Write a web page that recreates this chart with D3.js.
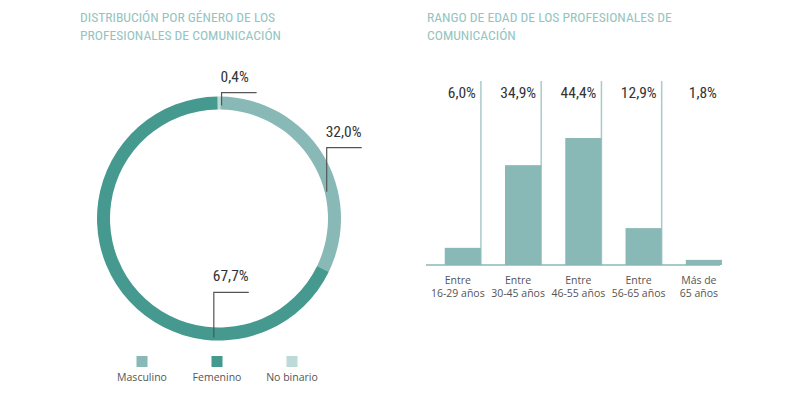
<!DOCTYPE html>
<html lang="es">
<head>
<meta charset="UTF-8">
<title>Profesionales de comunicación</title>
<script src="https://d3js.org/d3.v7.min.js"></script>
<style>
    html, body {
        margin: 0;
        background: #fff;
    }
    .title {
        font-family: "Roboto Condensed", "Liberation Sans Narrow", "DejaVu Sans Condensed", sans-serif;
        font-stretch: condensed;
        font-size: 13.6px;
        fill: #93c4c1;
    }
    .value {
        font-family: "Roboto Condensed", "Liberation Sans Narrow", "DejaVu Sans Condensed", sans-serif;
        font-stretch: condensed;
        font-size: 15.5px;
        fill: #333;
    }
    .small {
        font-family: "Open Sans", sans-serif;
        font-size: 10.5px;
        fill: #555;
    }
</style>
</head>
<body>
<div id="vis"></div>
<script>

    // ---- data ----
    var genderLabels = ["No binario", "Masculino", "Femenino"];
    var genderValues = [0.4, 32.0, 67.7];
    var genderText = ["0,4%", "32,0%", "67,7%"];
    var legendOrder = ["Masculino", "Femenino", "No binario"];

    var ageLabels = [["Entre", "16-29 años"], ["Entre", "30-45 años"], ["Entre", "46-55 años"], ["Entre", "56-65 años"], ["Más de", "65 años"]];
    var ageValues = [6.0, 34.9, 44.4, 12.9, 1.8];
    var ageText = ["6,0%", "34,9%", "44,4%", "12,9%", "1,8%"];

    // ---- layout ----
    var width = 800, height = 393;
    var colors = d3.scaleOrdinal()
        .domain(["Masculino", "Femenino", "No binario"])
        .range(["#88b9b6", "#45998e", "#bcdad8"]);

    var svg = d3.select("#vis").append("svg")
        .attr("width", width)
        .attr("height", height);

    function title(x, lines) {
        var t = svg.append("text").attr("class", "title");
        lines.forEach(function(l, i) {
            t.append("tspan").attr("x", x).attr("y", 22 + i * 18).text(l);
        });
    }
    title(80, ["DISTRIBUCIÓN POR GÉNERO DE LOS", "PROFESIONALES DE COMUNICACIÓN"]);
    title(427, ["RANGO DE EDAD DE LOS PROFESIONALES DE", "COMUNICACIÓN"]);

    /*
     *  DONUT
     */
    var cx = 219, cy = 218.5, outerR = 122, innerR = 109;
    var rad = Math.PI / 180;

    var pie = d3.pie().sort(null).startAngle(-0.7 * rad).endAngle(359.3 * rad);
    var arcs = pie(genderValues);
    var arc = d3.arc().innerRadius(innerR).outerRadius(outerR);

    var donut = svg.append("g").attr("transform", "translate(" + cx + "," + cy + ")");
    donut.selectAll("path")
        .data(arcs)
        .enter().append("path")
        .attr("d", arc)
        .attr("fill", function(d, i) { return colors(genderLabels[i]); });

    // leader lines: angle on ring, radius of anchor, vertical rise
    var leaders = [
        {angle: 1.3, r: 113, rise: 13},
        {angle: 76, r: 111, rise: 44},
        {angle: 182.5, r: 119, rise: 45}
    ];
    var lead = donut.selectAll(".leader")
        .data(leaders)
        .enter().append("g").attr("class", "leader");

    lead.append("path")
        .attr("fill", "none")
        .attr("stroke", "#555")
        .attr("stroke-width", 1.2)
        .attr("d", function(d) {
            var x = d.r * Math.sin(d.angle * rad);
            var y = -d.r * Math.cos(d.angle * rad);
            return "M" + x + "," + y + "V" + (y - d.rise) + "h35";
        });
    lead.append("text")
        .attr("class", "value")
        .attr("x", function(d) { return d.r * Math.sin(d.angle * rad) - 1; })
        .attr("y", function(d) { return -d.r * Math.cos(d.angle * rad) - d.rise - 11; })
        .text(function(d, i) { return genderText[i]; });

    // legend
    var legendX = d3.scalePoint().domain(legendOrder).range([142, 292]);
    var legend = svg.selectAll(".legend")
        .data(legendOrder)
        .enter().append("g")
        .attr("transform", function(d) { return "translate(" + legendX(d) + ",0)"; });
    legend.append("rect")
        .attr("x", -5.5).attr("y", 356)
        .attr("width", 11).attr("height", 11)
        .attr("fill", function(d) { return colors(d); });
    legend.append("text")
        .attr("class", "small")
        .attr("text-anchor", "middle")
        .attr("y", 381)
        .text(function(d) { return d; });

    /*
     *  BAR CHART
     */
    var baseY = 265, lineTop = 81;
    var x = d3.scaleBand()
        .domain(d3.range(ageValues.length))
        .range([432.7, 734])
        .paddingInner(0.4)
        .paddingOuter(0.2);
    var y = d3.scaleLinear()
        .domain([0, 44.4])
        .range([baseY, 138]);

    var bars = svg.append("g");

    // separator lines
    bars.selectAll(".sep")
        .data(ageValues.slice(0, -1))
        .enter().append("line")
        .attr("x1", function(d, i) { return x(i) + x.bandwidth(); })
        .attr("x2", function(d, i) { return x(i) + x.bandwidth(); })
        .attr("y1", lineTop)
        .attr("y2", baseY)
        .attr("stroke", "#a8cbca")
        .attr("stroke-width", 1.5);

    bars.selectAll(".bar")
        .data(ageValues)
        .enter().append("rect")
        .attr("x", function(d, i) { return x(i); })
        .attr("width", x.bandwidth())
        .attr("y", function(d) { return y(d); })
        .attr("height", function(d) { return baseY - y(d); })
        .attr("fill", "#88b9b6");

    bars.append("line")
        .attr("x1", 426).attr("x2", 720)
        .attr("y1", baseY).attr("y2", baseY)
        .attr("stroke", "#88b9b6")
        .attr("stroke-width", 1.5);

    bars.selectAll(".val")
        .data(ageText)
        .enter().append("text")
        .attr("class", "value")
        .attr("text-anchor", "end")
        .attr("x", function(d, i) { return x(i) + x.bandwidth() - 5; })
        .attr("y", 98)
        .text(function(d) { return d; });

    var cat = bars.selectAll(".cat")
        .data(ageLabels)
        .enter().append("text")
        .attr("class", "small")
        .attr("text-anchor", "middle");
    cat.selectAll("tspan")
        .data(function(d, i) { return d.map(function(l) { return {l: l, i: i}; }); })
        .enter().append("tspan")
        .attr("x", function(d) { return x(d.i) + x.bandwidth() / 2 - 5; })
        .attr("y", function(d, j) { return 284 + j * 12.7; })
        .text(function(d) { return d.l; });

</script>
</body>
</html>
